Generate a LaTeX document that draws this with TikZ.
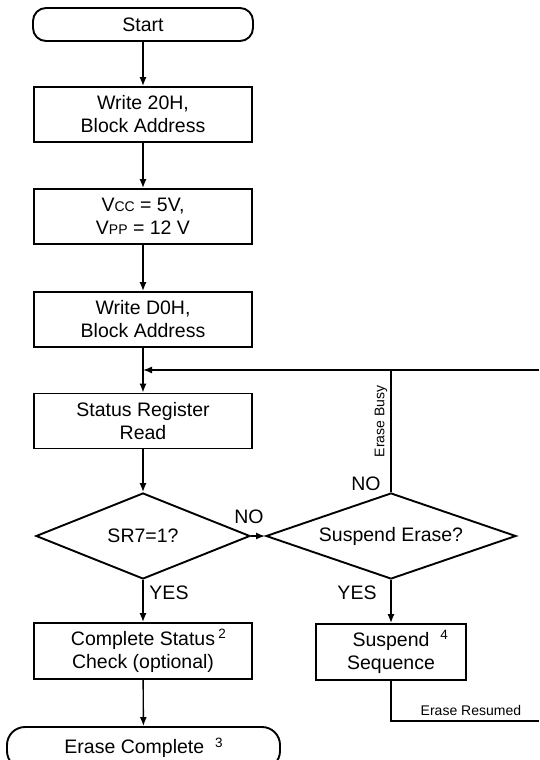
\documentclass[tikz,border=0pt]{standalone}
\usepackage{fontspec}
\setmainfont{Liberation Sans}
\usepackage{tikz}
\usetikzlibrary{positioning,shapes.geometric,arrows.meta}

\newcommand{\fnmark}[1]{\raisebox{6.5pt}{\fontsize{13.5}{13.5}\selectfont #1}}
\newcommand{\lowcap}[1]{{\fontsize{14}{14}\selectfont #1}}

\tikzset{
	flowbox/.style={draw, line width=1.9pt, minimum width=218pt, minimum height=55pt,
		inner sep=0pt, align=center, font=\fontsize{19.5}{23}\selectfont},
	termbox/.style={flowbox, rounded corners=13pt},
	decision/.style={draw, diamond, line width=1.9pt, inner sep=0pt, aspect=2.5,
		font=\fontsize{19.5}{23}\selectfont},
	arr/.style={line width=1.4pt, -{Latex[length=9pt,width=7pt]}},
	link/.style={line width=1.4pt},
	lbl/.style={inner sep=0pt, font=\fontsize{19.5}{23}\selectfont},
	smalllbl/.style={font=\fontsize{14}{16}\selectfont}
}

\begin{document}
\begin{tikzpicture}[x=1pt,y=-1pt]
	\useasboundingbox (0,0) rectangle (539,760);
	
	% main column
	\node[termbox, minimum width=220pt, minimum height=33pt] (start) at (143,24.5) {Start};
	\node[flowbox] (w20) at (143,114.5) {Write 20H,\\Block Address};
	\node[flowbox] (vcc) at (143,216.5) {V\lowcap{CC} = 5V,\\V\lowcap{PP} = 12 V};
	\node[flowbox] (wd0) at (143,319.5) {Write D0H,\\Block Address};
	\node[flowbox] (srread) at (143,421) {Status Register\\Read};
	\node[decision, minimum width=214pt, minimum height=86pt] (sr7) at (143,536) {SR7=1?};
	\node[flowbox, minimum height=56pt] (check) at (143,651) {Complete Status\rlap{\,\fnmark{2}}\\Check (optional)};
	\node[termbox, minimum width=273pt, minimum height=42pt, rounded corners=18pt] (done) at (143.5,748) {Erase Complete\ \ \fnmark{3}};
	
	% suspend branch
	\node[decision, minimum width=250pt, minimum height=86pt] (susp) at (391,536) {Suspend Erase?};
	\node[flowbox, minimum width=150pt, minimum height=56pt] (suspseq) at (391,652) {Suspend\rlap{\ \ \fnmark{4}}\\Sequence};
	
	\coordinate (busy) at (391,370);
	\coordinate (loopin) at (539,370);
	\coordinate (resume) at (539,721);
	
	\node[lbl] (yes1) at (169,593) {YES};
	\node[lbl] (no1) at (249,517) {NO};
	\node[lbl] (no2) at (366,484) {NO};
	\node[lbl] (yes2) at (357,593) {YES};
	
	% connectors
	\draw[arr] (start) -- (w20);
	\draw[arr] (w20) -- (vcc);
	\draw[arr] (vcc) -- (wd0);
	\draw[arr] (wd0) -- (srread);
	\draw[arr] (srread) -- (sr7);
	\draw[arr] (sr7.south) -- (check);
	\draw[arr] (check) -- (done);
	\draw[arr] (sr7.east) -- (susp.west);
	\draw[arr] (susp.south) -- (suspseq);
	\draw[link] (susp.north) -- node[pos=0.58, anchor=south, rotate=90, smalllbl, inner sep=3pt] {Erase Busy} (busy);
	\draw[arr] (loopin) -- (wd0.south |- loopin);
	\draw[link] (suspseq.south) |- node[pos=0.77, above, smalllbl, inner sep=5pt] {Erase Resumed} (resume);
\end{tikzpicture}
\end{document}
